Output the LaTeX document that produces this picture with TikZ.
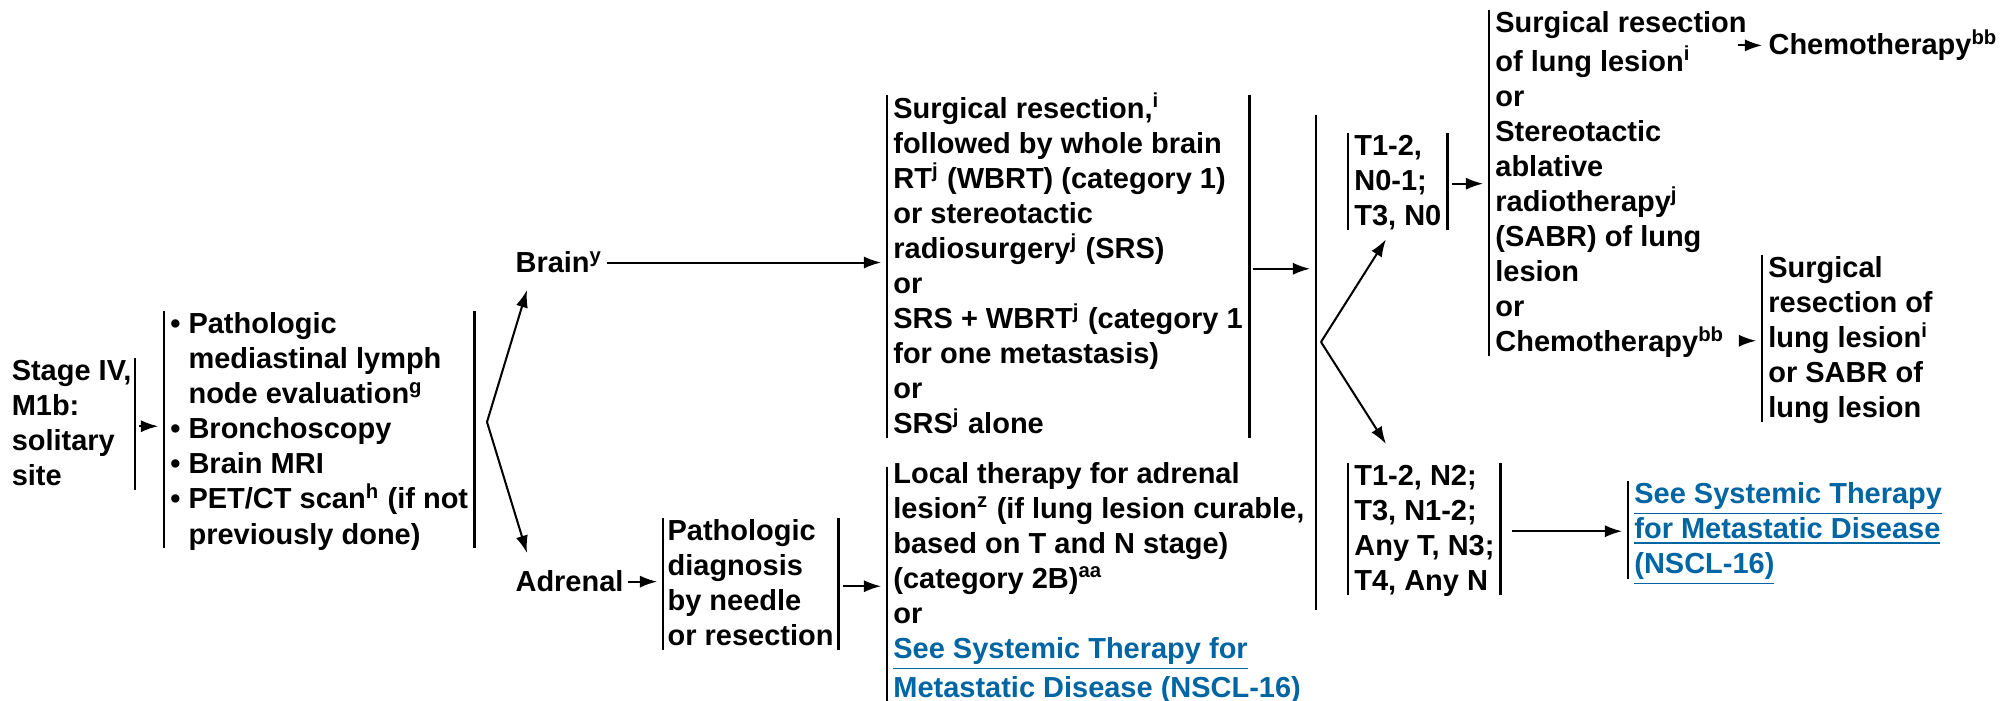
\documentclass[tikz,border=0pt]{standalone}
\usepackage{fontspec}
\setmainfont{Liberation Sans}
\usepackage{tikz}
\usetikzlibrary{arrows.meta}
\definecolor{linkblue}{RGB}{0,101,163}
\newcommand{\seelink}[1]{\textcolor{linkblue}{\underline{#1}}}
\newcommand{\sps}[1]{\textsuperscript{#1}}

\begin{document}
\begin{tikzpicture}[x=.345pt,y=-.345pt,>={Latex[length=6pt,width=4.2pt]}]
\tikzstyle{box}=[align=left,inner xsep=2pt,inner ysep=0pt,font=\bfseries\fontsize{10pt}{12.1pt}\selectfont]
\tikzstyle{txt}=[inner sep=0pt,font=\bfseries\fontsize{10pt}{12.1pt}\selectfont]
\tikzstyle{brk}=[line width=1pt,shorten <=1pt,shorten >=2.5pt]
\tikzstyle{arr}=[->,line width=.7pt,shorten <=1.5pt,shorten >=2pt]
\tikzstyle{fork}=[->,line width=.7pt]
\useasboundingbox (0,0) rectangle (2003,701);
% work-up
\node(stage)at(135,355.5)[box,anchor=north east,inner xsep=1pt]{\strut Stage IV,\\M1b:\\solitary\\site\strut};
\node(tests)at(164,308.5)[box,anchor=north west]{\strut• Pathologic\\\phantom{• }mediastinal lymph\\\phantom{• }node evaluation\sps{g}\\• Bronchoscopy\\• Brain MRI\\• PET/CT scan\sps{h} (if not\\\phantom{• }previously done)\strut};
\node(brain)at(515,273)[txt,anchor=base west]{Brain\sps{y}};
\node(adrenal)at(515,592)[txt,anchor=base west]{Adrenal};
\node(diag)at(663,515.5)[box,anchor=north west,inner xsep=1.4pt]{\strut Pathologic\\diagnosis\\by needle\\or resection\strut};
% treatment
\node(brainrx)at(887,92.5)[box,anchor=north west]{\strut Surgical resection,\sps{i}\\followed by whole brain\\RT\sps{j} (WBRT) (category 1)\\or stereotactic\\radiosurgery\sps{j} (SRS)\\or\\SRS + WBRT\sps{j} (category 1\\for one metastasis)\\or\\SRS\sps{j} alone\strut};
\node(adrrx)at(887,458)[box,anchor=north west]{\strut Local therapy for adrenal\\lesion\sps{z} (if lung lesion curable,\\based on T and N stage)\\(category 2B)\sps{aa}\\or\\\seelink{See Systemic Therapy for}\\\seelink{Metastatic Disease (NSCL-16)}\strut};
\coordinate(lbtop)at(1316,115);
\coordinate(lbbot)at(1316,610);
\node(tbox1)at(1348,130.5)[box,anchor=north west]{\strut T1-2,\\N0-1;\\T3, N0\strut};
\node(tbox2)at(1348,460.5)[box,anchor=north west]{\strut T1-2, N2;\\T3, N1-2;\\Any T, N3;\\T4, Any N\strut};
\node(lungrx)at(1489,7.5)[box,anchor=north west]{\strut Surgical resection\\of lung lesion\sps{i}\\or\\Stereotactic\\ablative\\radiotherapy\sps{j}\\(SABR) of lung\\lesion\\or\\Chemotherapy\sps{bb}\strut};
\node(chemo)at(1768,55)[txt,anchor=base west]{Chemotherapy\sps{bb}};
\node(salv)at(1762,252.5)[box,anchor=north west]{\strut Surgical\\resection of\\lung lesion\sps{i}\\or SABR of\\lung lesion\strut};
\node(see)at(1628,478.5)[box,anchor=north west]{\strut\seelink{See Systemic Therapy}\\\seelink{for Metastatic Disease}\\\seelink{(NSCL-16)}\strut};
% brackets
\draw[brk](stage.north east)--(stage.south east);
\draw[brk](tests.north west)--(tests.south west);
\draw[brk](tests.north east)--(tests.south east);
\draw[brk](diag.north west)--(diag.south west);
\draw[brk](diag.north east)--(diag.south east);
\draw[brk](brainrx.north west)--(brainrx.south west);
\draw[brk](brainrx.north east)--(brainrx.south east);
\draw[brk,shorten <=3pt](adrrx.north west)--(adrrx.south west);
\draw[line width=1pt](lbtop)--(lbbot);
\draw[brk](tbox1.north west)--(tbox1.south west);
\draw[brk](tbox1.north east)--(tbox1.south east);
\draw[brk](tbox2.north west)--(tbox2.south west);
\draw[brk](tbox2.north east)--(tbox2.south east);
\draw[brk](lungrx.north west)--(lungrx.south west);
\draw[brk](salv.north west)--(salv.south west);
\draw[brk](see.north west)--(see.south west);
% arrows
\draw[arr](stage.east)--(stage.east -| tests.west);
\coordinate(f1)at(487,422);
\draw[fork](f1)--([shift={(12,17)}]brain.base west);
\draw[fork](f1)--([shift={(12,-39)}]adrenal.base west);
\draw[arr](brain.east)--(brain.east -| brainrx.west);
\draw[arr](adrenal.east)--(adrenal.east -| diag.west);
\draw[arr](diag.east)--(diag.east -| adrrx.west);
\draw[arr](brainrx.east)--(brainrx.east -| lbtop);
\coordinate(f2)at(1321,342);
\draw[fork](f2)--([shift={(38,2.5)}]tbox1.south west);
\draw[fork](f2)--([shift={(38,-16.5)}]tbox2.north west);
\draw[arr](tbox1.east)--(tbox1.east -| lungrx.west);
\draw[arr,shorten <=4pt](tbox2.east)--(tbox2.east -| see.west);
\draw[arr]([shift={(-34,0)}]chemo.west)--(chemo.west);
\draw[arr]([shift={(-26,0)}]salv.west)--(salv.west);
\end{tikzpicture}
\end{document}
